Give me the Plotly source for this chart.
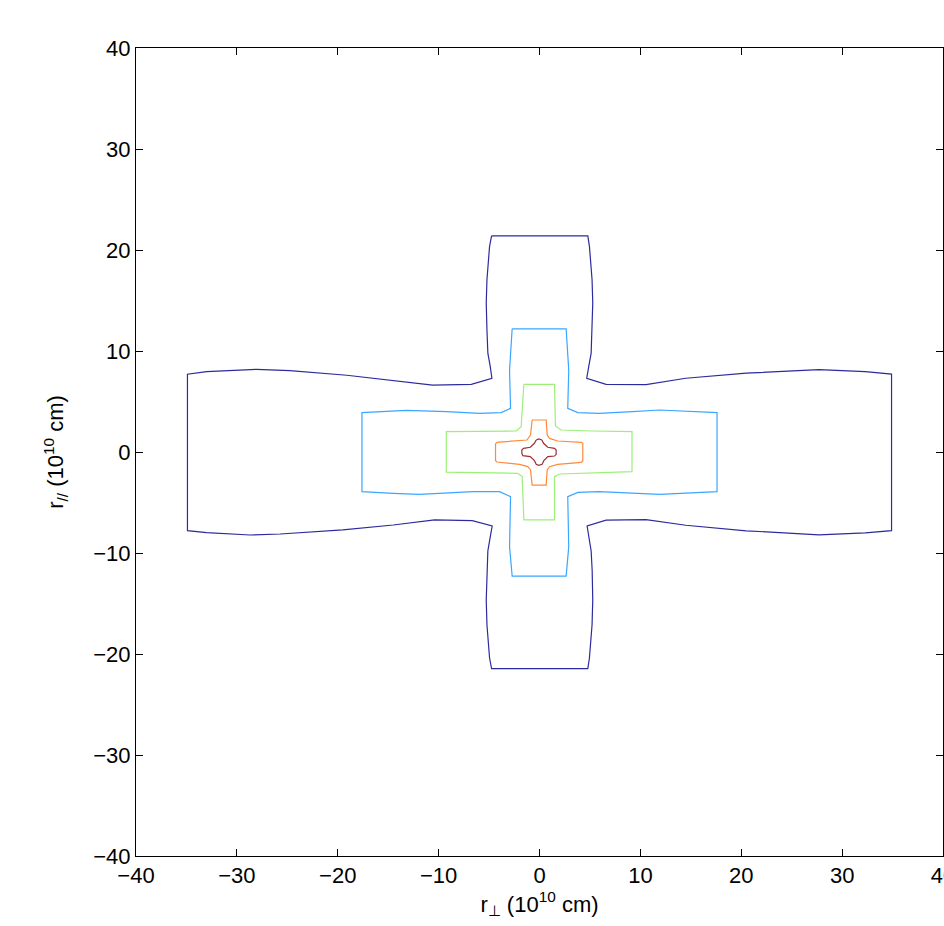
import plotly.graph_objects as go

# Contour levels (outer -> inner), vertex lists (units of 1e10 cm)
c1_x = [-4.75, 4.79, 4.95, 5.08, 5.21, 5.28, 5.21, 5.12, 4.88, 4.68,
        6.6, 10.56, 14.5, 20.5, 27.7, 32.3, 34.9,
        34.9, 32.3, 27.7, 20.5, 14.5, 10.56, 6.6,
        4.72, 4.9, 5.12, 5.22, 5.28, 5.21, 5.08, 4.95, 4.79,
        -4.75, -4.95, -5.08, -5.21, -5.28, -5.22, -5.12, -4.9, -4.69,
        -6.67, -10.4, -14.5, -19.5, -25.7, -28.7, -33.0, -34.9,
        -34.9, -33.0, -28.05, -24.75, -19.1, -14.5, -10.6, -6.76,
        -4.72, -4.88, -5.12, -5.21, -5.28, -5.21, -5.08, -4.95, -4.75]
c1_y = [21.4, 21.4, 20.36, 19.04, 17.06, 14.75, 12.1, 9.78, 8.46, 7.3,
        6.7, 6.67, 7.3, 7.8, 8.15, 7.95, 7.72,
        -7.79, -8.0, -8.2, -7.8, -7.25, -6.7, -6.75,
        -7.33, -8.5, -9.8, -11.7, -14.65, -17.1, -19.1, -20.4, -21.45,
        -21.45, -20.4, -19.1, -17.1, -14.65, -11.7, -9.8, -8.5, -7.33,
        -6.8, -6.73, -7.23, -7.72, -8.12, -8.22, -7.99, -7.79,
        7.7, 7.95, 8.19, 8.05, 7.6, 7.1, 6.63, 6.7,
        7.3, 8.46, 9.78, 12.1, 14.75, 17.06, 19.04, 20.36, 21.4]

c2_x = [-2.71, 2.64, 2.9, 2.8, 3.8, 5.9, 9.2, 11.9, 17.6, 17.6, 11.9, 9.2, 5.9, 3.8, 2.8, 2.9, 2.64,
        -2.71, -2.97, -2.87, -3.96, -6.6, -11.9, -14.5, -17.6, -17.6, -13.2, -9.2, -5.94, -3.8, -2.87, -2.97, -2.71]
c2_y = [12.2, 12.2, 8.1, 4.32, 3.9, 3.83, 4.0, 4.16, 3.9, -3.93, -4.19, -4.1, -3.93, -4.0, -4.42, -9.37, -12.28,
        -12.28, -9.37, -4.42, -3.93, -3.93, -4.19, -4.09, -3.93, 3.9, 4.12, 4.0, 3.83, 3.9, 4.32, 8.1, 12.2]

c3_x = [-1.55, 1.49, 1.58, 2.15, 5.28, 9.17, 9.17, 5.28, 1.98, 1.49, 1.49,
        -1.55, -1.72, -2.15, -5.28, -9.24, -9.24, -5.28, -2.31, -1.82, -1.55]
c3_y = [6.7, 6.7, 2.57, 2.18, 2.08, 2.01, -1.95, -2.05, -2.18, -2.44, -6.73,
        -6.73, -2.44, -2.11, -2.05, -2.0, 2.01, 2.08, 2.08, 2.5, 6.7]

c4_x = [-0.73, 0.66, 0.76, 0.99, 1.81, 4.13, 4.29, 4.29, 4.13, 1.81, 0.99, 0.76, 0.66,
        -0.73, -0.89, -1.16, -1.98, -4.22, -4.36, -4.36, -4.22, -1.98, -1.25, -0.89, -0.73]
c4_y = [3.17, 3.17, 1.68, 1.35, 1.09, 0.96, 0.86, -0.86, -1.02, -1.22, -1.45, -1.78, -3.27,
        -3.27, -1.78, -1.45, -1.22, -0.99, -0.86, 0.8, 0.96, 1.09, 1.19, 1.68, 3.17]

c5_x = [-0.33, -0.07, 0.23, 0.4, 0.82, 1.49, 1.65, 1.65, 1.49, 0.82, 0.43, 0.26, -0.07,
        -0.33, -0.5, -0.92, -1.65, -1.75, -1.75, -1.58, -0.92, -0.5, -0.33]
c5_y = [1.19, 1.29, 1.19, 0.86, 0.47, 0.36, 0.2, -0.23, -0.4, -0.46, -0.86, -1.22, -1.32,
        -1.22, -0.86, -0.46, -0.36, -0.13, 0.2, 0.36, 0.47, 0.86, 1.19]

contours = [(c1_x, c1_y), (c2_x, c2_y), (c3_x, c3_y), (c4_x, c4_y), (c5_x, c5_y)]
colors = ["#2b2b9e", "#3aa6ff", "#9cef78", "#ff8a3a", "#9a3030"]
ticks = [-40, -30, -20, -10, 0, 10, 20, 30, 40]

fig = go.Figure()
for (xs, ys), col in zip(contours, colors):
    fig.add_trace(go.Scatter(x=xs, y=ys, mode="lines",
                             line=dict(color=col, width=1.2),
                             hoverinfo="skip", showlegend=False))

font = dict(family="Liberation Sans, Arial, Helvetica, sans-serif", size=22, color="black")
axis_common = dict(range=[-40, 40], tickvals=ticks, ticks="inside", ticklen=7,
                   tickcolor="black", tickwidth=1, showline=True, linecolor="black",
                   linewidth=1, mirror="ticks", showgrid=False, zeroline=False,
                   tickfont=font, automargin=False, ticklabeloverflow="allow")

fig.update_layout(
    width=944, height=926,
    margin=dict(l=136, r=1, t=48, b=70),
    paper_bgcolor="white", plot_bgcolor="white",
    xaxis=dict(**axis_common,
               title=dict(text="r<sub>⊥</sub> (10<sup>10</sup> cm)", font=font, standoff=6)),
    yaxis=dict(**axis_common,
               title=dict(text="r<sub>//</sub> (10<sup>10</sup> cm)", font=font, standoff=23)),
)

fig.write_html("out.html")
